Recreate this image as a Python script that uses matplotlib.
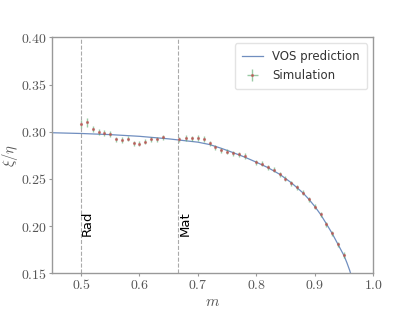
import numpy as np
import matplotlib
matplotlib.use("Agg")
import matplotlib.pyplot as plt

# simulation points (m, xi/eta, error)
m_sim = [0.50, 0.51, 0.52, 0.53, 0.54, 0.55, 0.56, 0.57, 0.58, 0.59, 0.60, 0.61,
         0.62, 0.63, 0.64, 0.667, 0.68, 0.69, 0.70, 0.71, 0.72, 0.73, 0.74, 0.75,
         0.76, 0.77, 0.78, 0.80, 0.81, 0.82, 0.83, 0.84, 0.85, 0.86, 0.87, 0.88,
         0.89, 0.90, 0.91, 0.92, 0.93, 0.94, 0.95]
xi_sim = [0.3080, 0.3100, 0.3030, 0.2995, 0.2985, 0.2975, 0.2920, 0.2912, 0.2928,
          0.2878, 0.2873, 0.2895, 0.2920, 0.2920, 0.2942, 0.2920, 0.2935, 0.2932,
          0.2935, 0.2925, 0.2878, 0.2835, 0.2806, 0.2788, 0.2772, 0.2763, 0.2743,
          0.2675, 0.2662, 0.2622, 0.2598, 0.2549, 0.2502, 0.2453, 0.2410, 0.2354,
          0.2284, 0.2206, 0.2125, 0.2022, 0.1924, 0.1807, 0.1694]
xi_err = [0.0045, 0.0045, 0.0035, 0.0032, 0.0030, 0.0030, 0.0028, 0.0028, 0.0028,
          0.0028, 0.0028, 0.0028, 0.0028, 0.0028, 0.0028, 0.0028, 0.0028, 0.0028,
          0.0028, 0.0028, 0.0028, 0.0028, 0.0027, 0.0027, 0.0027, 0.0027, 0.0027,
          0.0027, 0.0027, 0.0027, 0.0027, 0.0027, 0.0027, 0.0027, 0.0027, 0.0027,
          0.0027, 0.0027, 0.0027, 0.0027, 0.0027, 0.0027, 0.0027]

# VOS prediction curve
m_vos = [0.45, 0.50, 0.55, 0.60, 0.65, 0.70, 0.72, 0.74, 0.76, 0.78, 0.80, 0.82,
         0.84, 0.86, 0.88, 0.89, 0.90, 0.91, 0.92, 0.93, 0.94, 0.95, 0.955, 0.96, 0.97]
xi_vos = [0.2990, 0.2982, 0.2970, 0.2952, 0.2925, 0.2890, 0.2865, 0.2825, 0.2780,
          0.2732, 0.2678, 0.2620, 0.2550, 0.2460, 0.2352, 0.2285, 0.2210, 0.2125,
          0.2025, 0.1922, 0.1806, 0.1690, 0.1615, 0.1530, 0.1320]

plt.rcParams['mathtext.fontset'] = 'cm'
plt.rcParams['font.family'] = ['DejaVu Sans']

blue = '#4c72b0'
green = '#55a868'
red = '#c44e52'
spine_col = '#999999'
txt_col = '#555555'

fig = plt.figure(figsize=(4.15, 3.12), dpi=100)
ax = fig.add_axes([0.125, 0.124, 0.774, 0.756])

ax.plot(m_vos, xi_vos, color=blue, lw=0.9, alpha=0.8, label='VOS prediction')
ax.errorbar(m_sim, xi_sim, yerr=xi_err, xerr=0.0015, fmt='.', color=red,
            markersize=2.5, ecolor=green, elinewidth=1.0, alpha=0.6,
            label='Simulation')

ax.axvline(0.5, color='#aaaaaa', lw=0.8, ls='--')
ax.axvline(2 / 3, color='#aaaaaa', lw=0.8, ls='--')
ax.text(0.5, 0.19, 'Rad', rotation=90, ha='left', va='bottom', fontsize=9.5)
ax.text(2 / 3, 0.19, 'Mat', rotation=90, ha='left', va='bottom', fontsize=9.5)

ax.set_xlim(0.45, 1.0)
ax.set_ylim(0.15, 0.40)
xt = [0.5, 0.6, 0.7, 0.8, 0.9, 1.0]
yt = [0.15, 0.20, 0.25, 0.30, 0.35, 0.40]
ax.set_xticks(xt)
ax.set_xticklabels(['$%.1f$' % v for v in xt])
ax.set_yticks(yt)
ax.set_yticklabels(['$%.2f$' % v for v in yt])
ax.tick_params(colors=spine_col, labelcolor=txt_col, labelsize=10, length=2,
               width=0.8, pad=1.5)
for s in ax.spines.values():
    s.set_color(spine_col)
    s.set_linewidth(1.0)

ax.set_xlabel(r'$m$', fontsize=11, color=txt_col, labelpad=1)
ax.set_ylabel(r'$\xi/\eta$', fontsize=10.5, color=txt_col, labelpad=1)

leg = ax.legend(loc='upper right', fontsize=8.5, frameon=True, fancybox=True,
                handlelength=1.8, borderpad=0.6)
leg.get_frame().set_edgecolor('#dddddd')
for t in leg.get_texts():
    t.set_color('#333333')

fig.savefig('out.png', dpi=100)
